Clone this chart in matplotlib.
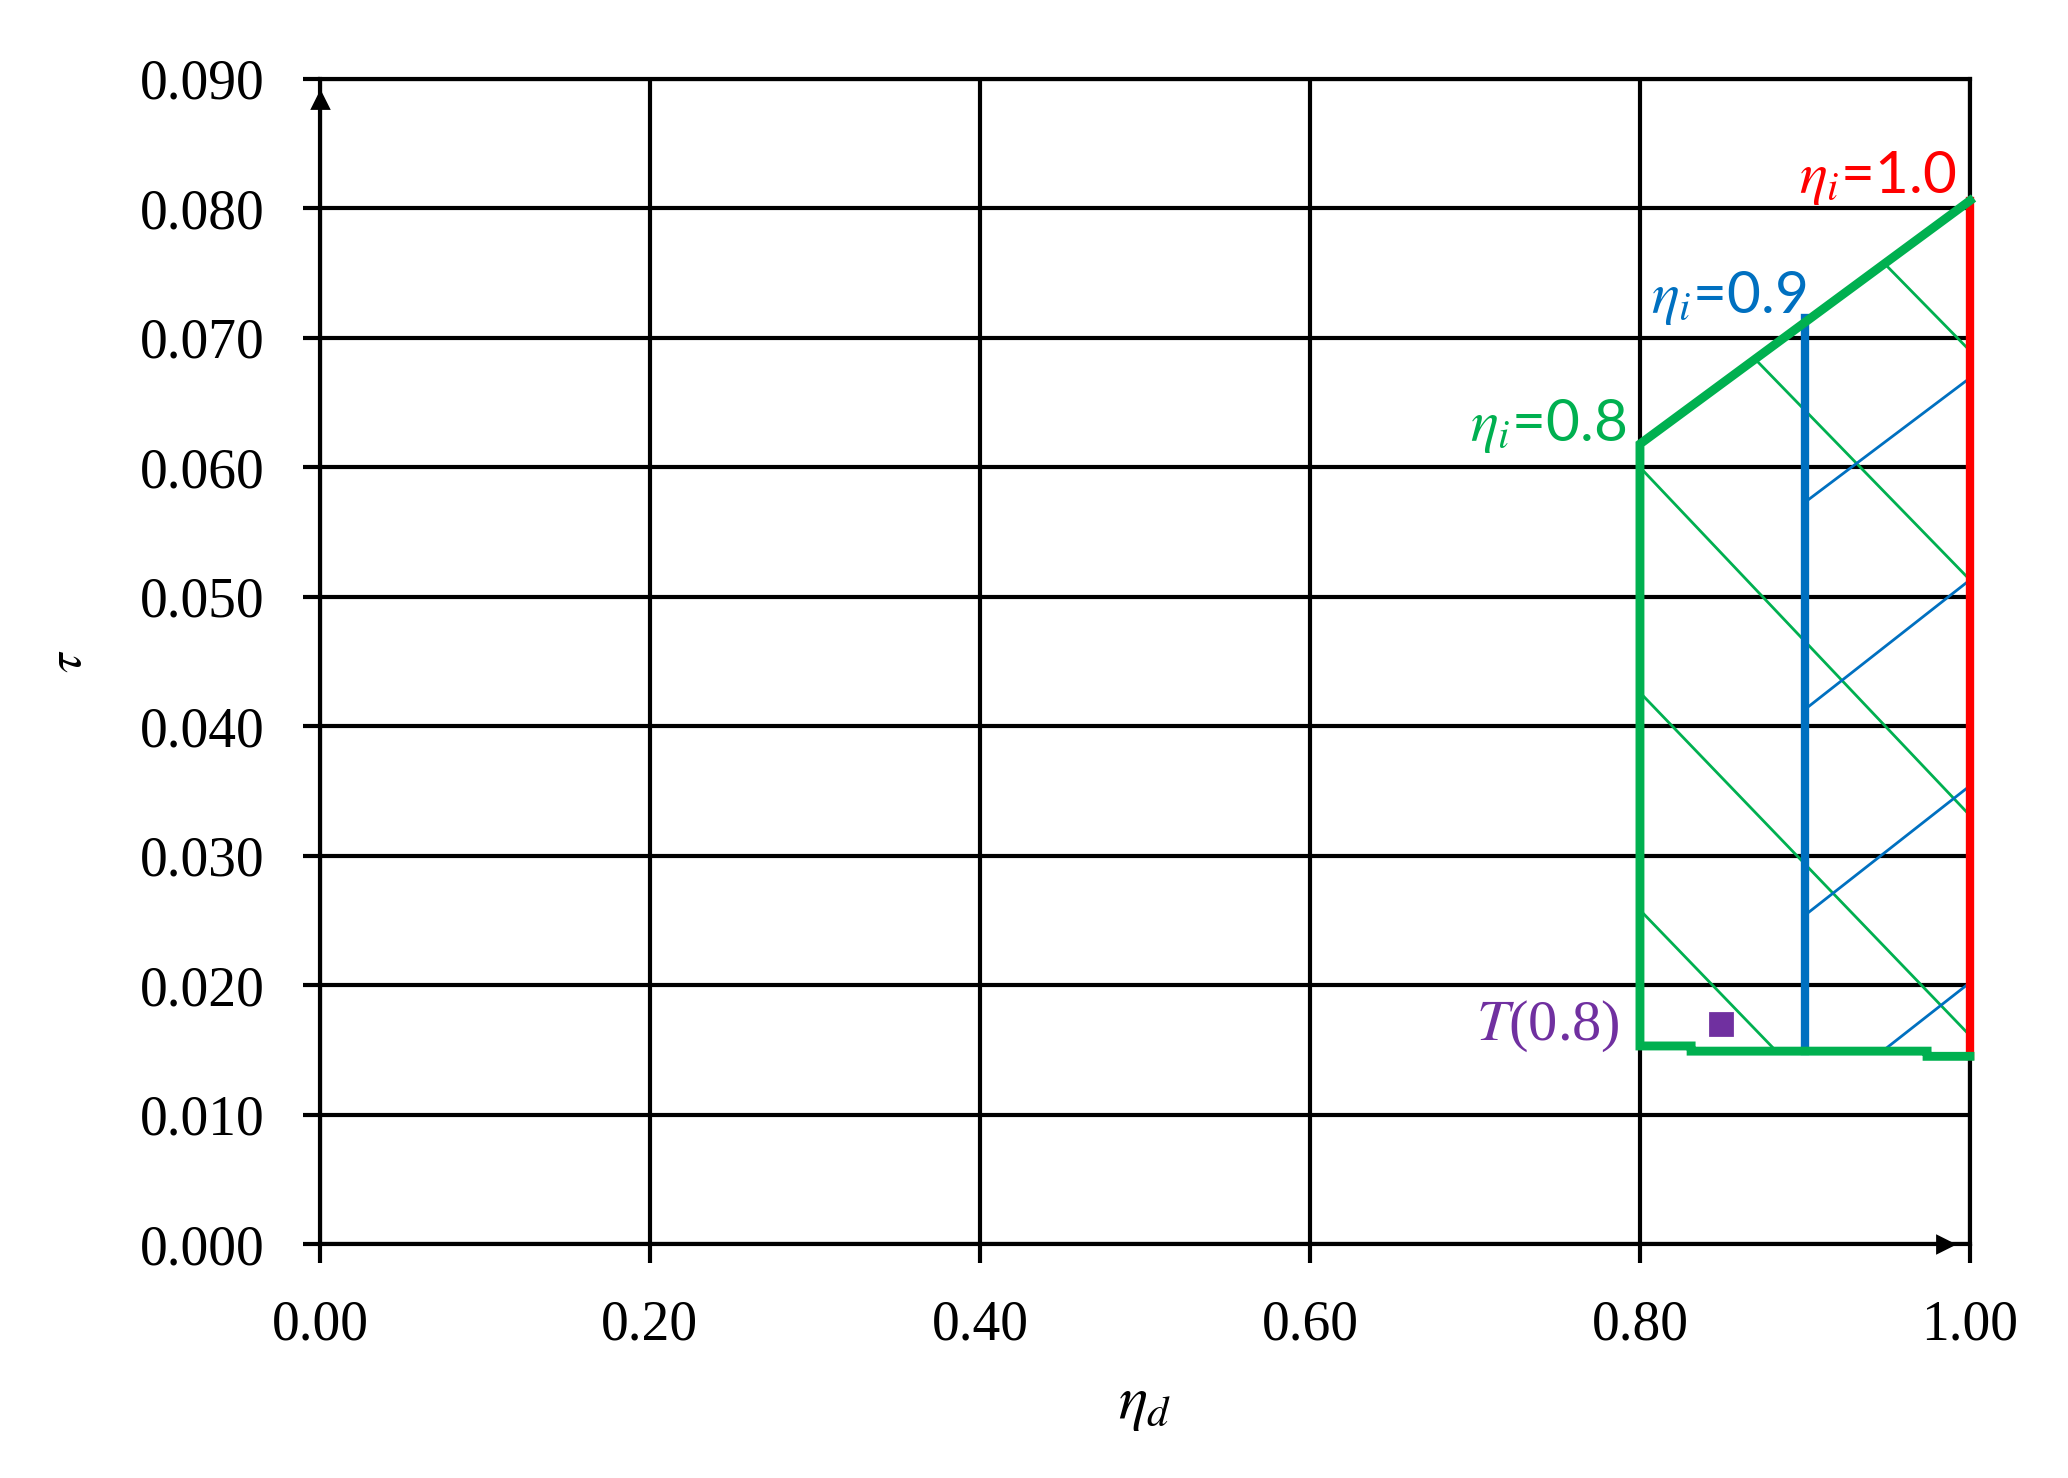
import matplotlib
matplotlib.use("Agg")
import matplotlib.pyplot as plt
from matplotlib.patches import Polygon
from matplotlib.ticker import FormatStrFormatter

plt.rcParams['mathtext.fontset'] = 'stix'

# Boundary of the eta_i = 0.8 region (green)
green_x = [1.00, 0.80, 0.80, 0.831, 0.831, 0.974, 0.974, 1.00]
green_tau = [0.0806, 0.0618, 0.0153, 0.0153, 0.0149, 0.0149, 0.0145, 0.0145]

# eta_i = 0.9 (blue) and eta_i = 1.0 (red) boundaries
blue_x = [0.90, 0.90]
blue_tau = [0.0149, 0.0715]
red_x = [1.00, 1.00]
red_tau = [0.0145, 0.0806]

# region right of eta_i = 0.9 (blue hatch)
blue_region_x = [0.90, 0.90, 0.974, 0.974, 1.00, 1.00]
blue_region_tau = [0.0715, 0.0149, 0.0149, 0.0145, 0.0145, 0.0806]

# hatch lines: tau at left end and right end
green_hatch_x = [0.80, 1.00]
green_hatch_start = [0.0258, 0.0426, 0.0600, 0.0775, 0.0950]
green_hatch_end = [-0.0006, 0.0161, 0.0331, 0.0513, 0.0690]
blue_hatch_x = [0.90, 1.00]
blue_hatch_start = [0.0102, 0.0254, 0.0413, 0.0573]
blue_hatch_end = [0.0202, 0.0354, 0.0513, 0.0669]

# point T(0.8)
t_point = (0.849, 0.0170)

# axis arrow heads (Excel style)
arrow_y = (0.0, 0.0884)
arrow_x = (0.985, 0.0)

x_ticks = [0.0, 0.2, 0.4, 0.6, 0.8, 1.0]
y_ticks = [0.00, 0.01, 0.02, 0.03, 0.04, 0.05, 0.06, 0.07, 0.08, 0.09]

GREEN = '#00B050'
BLUE = '#0070C0'
RED = '#FF0000'
PURPLE = '#7030A0'

fig = plt.figure(figsize=(10.34, 7.39), dpi=200)
ax = fig.add_axes([0.1547, 0.1583, 0.7979, 0.7883])

ax.set_xlim(0, 1.0)
ax.set_ylim(0, 0.09)
ax.set_xticks(x_ticks)
ax.set_yticks(y_ticks)
ax.xaxis.set_major_formatter(FormatStrFormatter('%.2f'))
ax.yaxis.set_major_formatter(FormatStrFormatter('%.3f'))
ax.set_axisbelow(True)
ax.grid(True, color='black', linewidth=1.5)
for sp in ax.spines.values():
    sp.set_linewidth(1.5)
    sp.set_color('black')
ax.tick_params(axis='both', direction='out', width=1.5, labelsize=20,
               labelfontfamily='Liberation Serif')
ax.tick_params(axis='x', length=7, pad=13)
ax.tick_params(axis='y', length=6, pad=14)

# clip regions for the hatching
green_region = Polygon(list(zip(green_x, green_tau)), closed=True,
                       fill=False, edgecolor='none', transform=ax.transData)
blue_region = Polygon(list(zip(blue_region_x, blue_region_tau)), closed=True,
                      fill=False, edgecolor='none', transform=ax.transData)
ax.add_patch(green_region)
ax.add_patch(blue_region)

for a, b in zip(green_hatch_start, green_hatch_end):
    ln, = ax.plot(green_hatch_x, [a, b], color=GREEN, lw=1.0)
    ln.set_clip_path(green_region)
for a, b in zip(blue_hatch_start, blue_hatch_end):
    ln, = ax.plot(blue_hatch_x, [a, b], color=BLUE, lw=1.0)
    ln.set_clip_path(blue_region)

# boundary lines
ax.plot(red_x, red_tau, color=RED, lw=3.0, clip_on=False, zorder=3)
ax.plot(blue_x, blue_tau, color=BLUE, lw=3.0, clip_on=False, zorder=3)
ax.plot(green_x, green_tau, color=GREEN, lw=3.2, clip_on=False, zorder=4,
        solid_joinstyle='miter')

ax.plot(*t_point, marker='s', color=PURPLE, ms=8, zorder=5)

# axis arrows
ax.plot(*arrow_y, marker='^', color='black', ms=6, clip_on=False, zorder=5)
ax.plot(*arrow_x, marker='>', color='black', ms=6, clip_on=False, zorder=5)

# labels
lab_font = 'Lato'
ax.text(0.9915, 0.0812, r'$\eta_i$=1.0', color=RED, fontsize=21,
        family=lab_font, ha='right', va='baseline')
ax.text(0.901, 0.0719, r'$\eta_i$=0.9', color=BLUE, fontsize=21,
        family=lab_font, ha='right', va='baseline')
ax.text(0.7915, 0.0620, r'$\eta_i$=0.8', color=GREEN, fontsize=21,
        family=lab_font, ha='right', va='baseline')
ax.text(0.788, 0.0168, r'$T$(0.8)', color=PURPLE, fontsize=21,
        family='Liberation Serif', ha='right', va='center')

ax.set_xlabel(r'$\eta_d$', fontsize=22, labelpad=8)
ax.set_ylabel(r'$\tau$', fontsize=18)
ax.yaxis.set_label_coords(-0.139, 0.5)

fig.savefig('out.png', dpi=200)
